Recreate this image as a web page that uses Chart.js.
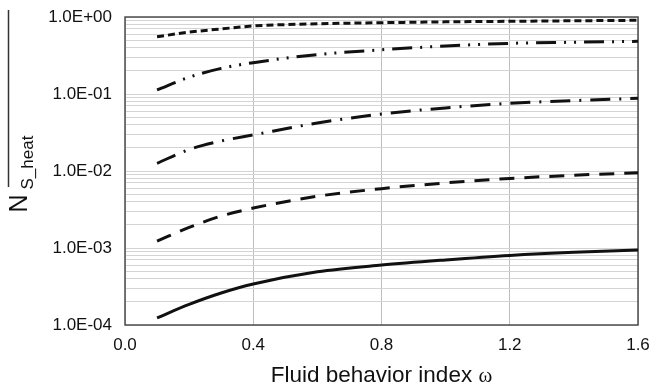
<!DOCTYPE html>
<html><head><meta charset="utf-8">
<script src="https://cdn.jsdelivr.net/npm/chart.js@4/dist/chart.umd.min.js"></script>
<style>html,body{margin:0;padding:0;background:#fff;}#wrap{width:652px;height:388px;}</style>
</head><body><div id="wrap"><canvas id="c" width="652" height="388"></canvas></div>
<script>
const omega = [0.1, 0.2, 0.3, 0.4, 0.6, 0.8, 1.0, 1.2, 1.4, 1.6];
const seriesShortDash = [0.555, 0.635, 0.70, 0.764, 0.815, 0.843, 0.865, 0.879, 0.893, 0.906];
const seriesDashDotDot = [0.113, 0.165, 0.215, 0.255, 0.325, 0.375, 0.42, 0.455, 0.47, 0.483];
const seriesDashDot = [0.0126, 0.019, 0.0245, 0.0294, 0.042, 0.055, 0.066, 0.0757, 0.082, 0.088];
const seriesDash = [0.00123, 0.00185, 0.0026, 0.0033, 0.0047, 0.0059, 0.0070, 0.0080, 0.0088, 0.0095];
const seriesSolid = [0.000124, 0.000185, 0.00026, 0.00034, 0.00049, 0.00060, 0.00070, 0.00080, 0.00088, 0.00094];
const xTickValues = [0, 0.4, 0.8, 1.2, 1.6];
const xTickLabels = ['0.0', '0.4', '0.8', '1.2', '1.6'];
const yTickValues = [1e-4, 1e-3, 1e-2, 1e-1, 1];
const yTickLabels = ['1.0E-04', '1.0E-03', '1.0E-02', '1.0E-01', '1.0E+00'];
const xTitleText = 'Fluid behavior index ';
const xTitleSymbol = 'ω';
const yTitleMain = 'N';
const yTitleSub = 'S_heat';

const FONT = '"Liberation Sans", Arial, sans-serif';
const SERIF = '"Liberation Serif", "DejaVu Serif", serif';
const toPts = arr => omega.map((x, i) => ({x: x, y: arr[i]}));

function mk(arr, dash) {
  return {
    data: toPts(arr), showLine: true, borderColor: '#111', borderWidth: 3,
    borderDash: dash, borderCapStyle: 'butt', pointRadius: 0, tension: 0.4,
    cubicInterpolationMode: 'monotone', fill: false
  };
}

const decor = {
  id: 'decor',
  beforeDatasetsDraw(chart) {
    const {ctx, chartArea: a} = chart;
    ctx.save();
    ctx.strokeStyle = '#4d4d4d'; ctx.lineWidth = 1.5;
    ctx.strokeRect(a.left, a.top, a.right - a.left, a.bottom - a.top);
    ctx.restore();
  },
  afterDraw(chart) {
    const {ctx, chartArea: a} = chart;
    ctx.save();
    // x-axis title: sans text + serif omega
    ctx.fillStyle = '#111'; ctx.textBaseline = 'alphabetic'; ctx.textAlign = 'left';
    ctx.font = '22.5px ' + FONT;
    const w1 = ctx.measureText(xTitleText).width;
    ctx.font = '21px ' + SERIF;
    const w2 = ctx.measureText(xTitleSymbol).width;
    const x0 = (a.left + a.right) / 2 - (w1 + w2) / 2;
    ctx.font = '22.5px ' + FONT;
    ctx.fillText(xTitleText, x0, 382);
    ctx.font = '21px ' + SERIF;
    ctx.fillText(xTitleSymbol, x0 + w1, 382);
    // stray frame line at left
    ctx.beginPath(); ctx.moveTo(8.5, 10); ctx.lineTo(8.5, 187);
    ctx.strokeStyle = '#333'; ctx.lineWidth = 1.5; ctx.stroke();
    // y-axis title with subscript
    ctx.translate(26.5, 212.5); ctx.rotate(-Math.PI / 2);
    ctx.font = '25px ' + FONT;
    ctx.fillText(yTitleMain, 0, 0);
    ctx.font = '17px ' + FONT;
    ctx.fillText(yTitleSub, 23, 6.5);
    ctx.restore();
  }
};

new Chart(document.getElementById('c'), {
  type: 'scatter',
  data: {
    datasets: [
      mk(seriesShortDash, [7, 4]),
      mk(seriesDashDotDot, [20, 8, 2, 8, 2, 8]),
      mk(seriesDashDot, [20, 9, 2, 9]),
      mk(seriesDash, [15, 10]),
      mk(seriesSolid, [])
    ]
  },
  options: {
    responsive: false, animation: false,
    layout: {padding: {top: 17, right: 14, bottom: 0, left: 0}},
    plugins: {legend: {display: false}, tooltip: {enabled: false}},
    scales: {
      x: {
        type: 'linear', min: 0, max: 1.6,
        afterFit(s) { s.height = 63; s.paddingLeft = 0; s.paddingRight = 0; },
        afterBuildTicks(s) { s.ticks = xTickValues.map(v => ({value: v})); },
        ticks: {
          autoSkip: false, padding: 10, color: '#111',
          font: {family: FONT, size: 17},
          callback: (v) => { const i = xTickValues.findIndex(t => Math.abs(t - v) < 1e-9); return i >= 0 ? xTickLabels[i] : ''; }
        },
        grid: {color: '#bdbdbd', lineWidth: 1, drawTicks: false},
        border: {display: false},
        title: {display: false}
      },
      y: {
        type: 'logarithmic', min: 1e-4, max: 1,
        afterFit(s) { s.width = 125; s.paddingTop = 0; s.paddingBottom = 0; },
        afterBuildTicks(s) {
          const t = [];
          yTickValues.forEach((d, k) => {
            t.push({value: d});
            if (k < yTickValues.length - 1) for (let m = 2; m <= 9; m++) t.push({value: d * m});
          });
          s.ticks = t;
        },
        ticks: {
          autoSkip: false, padding: 13, color: '#111',
          font: {family: FONT, size: 17},
          callback: (v) => { const i = yTickValues.findIndex(t => Math.abs(t - v) / t < 1e-6); return i >= 0 ? yTickLabels[i] : ''; }
        },
        grid: {color: '#d4d4d4', lineWidth: 1, drawTicks: false},
        border: {display: false}
      }
    }
  },
  plugins: [decor]
});
</script>
</body></html>
